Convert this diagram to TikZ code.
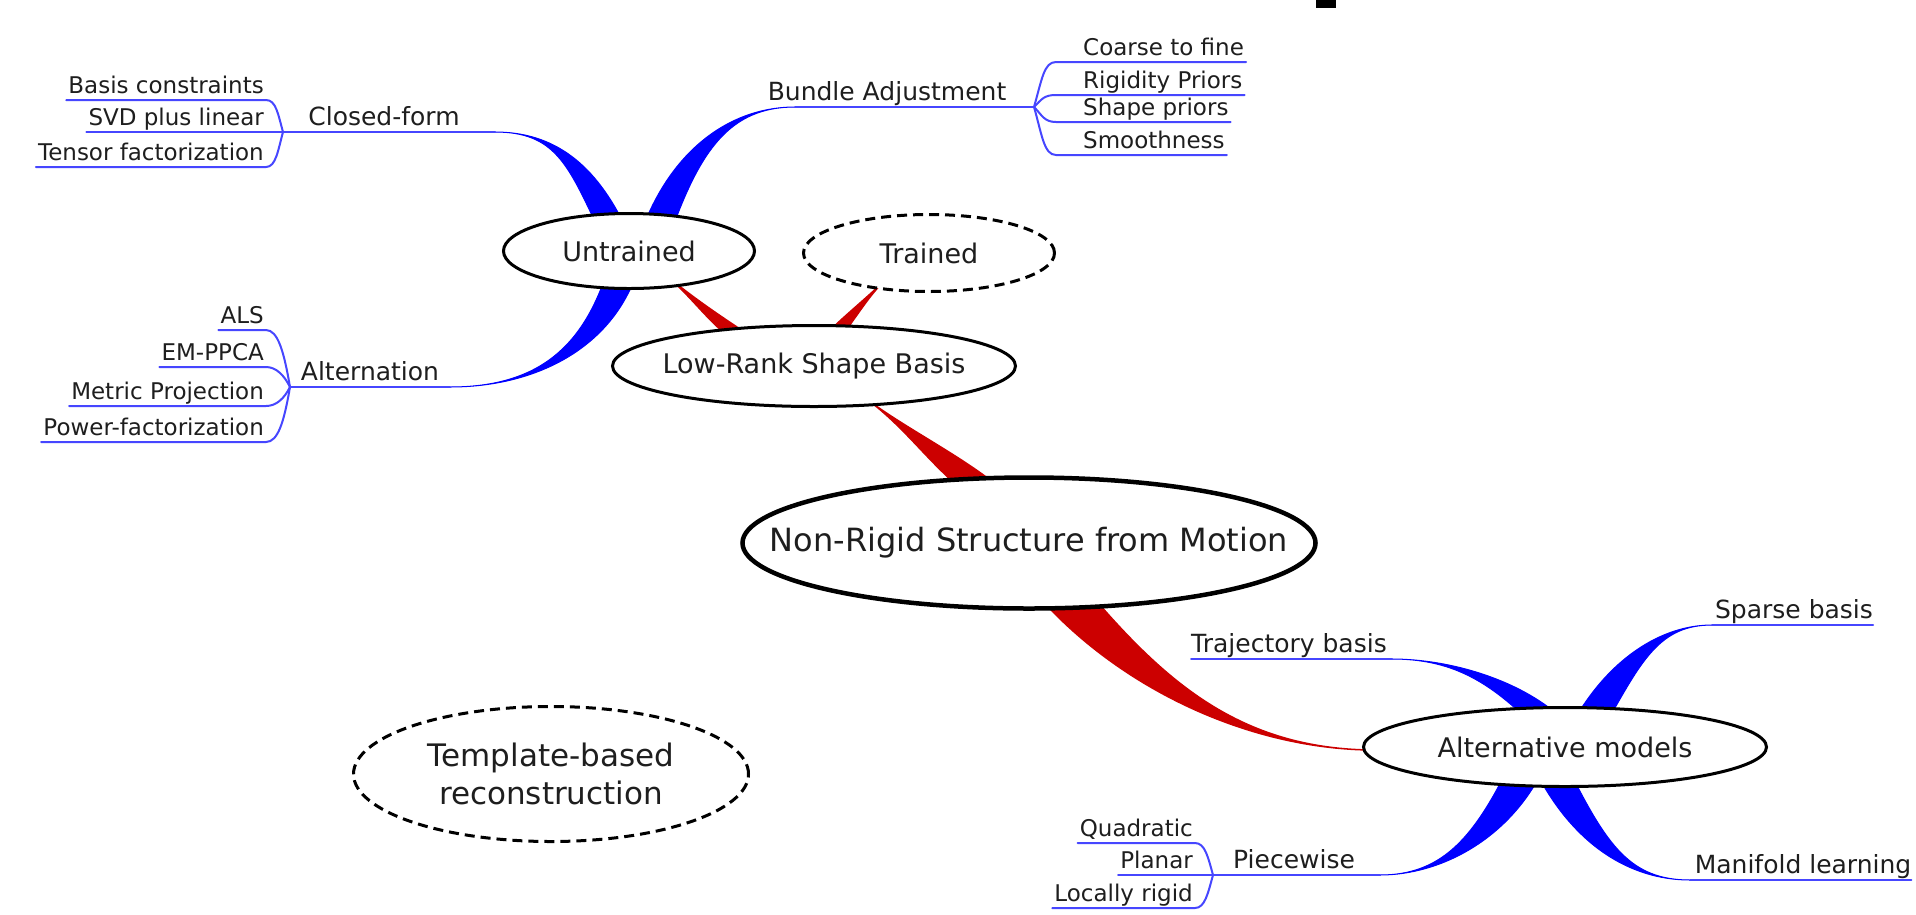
\documentclass[tikz,border=0pt]{standalone}
\usepackage{fontspec}
\setmainfont{DejaVu Sans}
\usetikzlibrary{shapes.geometric,calc}
\pgfdeclarelayer{background}
\pgfsetlayers{background,main}
\definecolor{ribblue}{RGB}{0,0,255}
\definecolor{ribred}{RGB}{204,0,0}
\definecolor{twigblue}{RGB}{70,70,255}
\definecolor{txt}{RGB}{30,30,30}
% tapered ribbon: style, thin end, control near thin end, control near thick end, thick end, half width
\newcommand\Rib[6]{\path[#1] (#2) .. controls (#3) and ($(#4)+(-#6,0)$) .. ($(#5)+(-#6,0)$) -- ($(#5)+(#6,0)$) .. controls ($(#4)+(#6,0)$) and (#3) .. (#2) -- cycle;}
\begin{document}
\begin{tikzpicture}[x=1pt,y=-1pt,
  twig/.style={draw=twigblue, line width=2pt, line cap=round},
  bribbon/.style={fill=ribblue, draw=ribblue, line width=1pt, line join=round},
  rribbon/.style={fill=ribred, draw=ribred, line width=1.5pt, line join=round},
  ell/.style={ellipse, draw=black, line width=3pt, fill=white, inner sep=0pt},
  dashell/.style={ell, dash pattern=on 10pt off 6pt},
  leaf/.style={font=\fontsize{23}{27}\selectfont, text=txt, inner xsep=2pt, inner ysep=6pt, text depth=0pt},
  branch/.style={font=\fontsize{25}{29}\selectfont, text=txt, inner xsep=0pt, inner ysep=6pt, text depth=0pt},
  elabel/.style={font=\fontsize{27}{32}\selectfont, text=txt, inner sep=0pt},
]
\useasboundingbox (0,0) rectangle (1916,914);
\begin{pgfonlayer}{background}
\fill[white] (0,0) rectangle (1916,914);
\end{pgfonlayer}
\fill[black] (1316,0) rectangle (1336,8);

% ---- ellipses ----
\node[ell, minimum width=251pt, minimum height=75pt] (untrained) at (629,251) {};
\node[dashell, minimum width=251pt, minimum height=77pt] (trained) at (929,253) {};
\node[ell, minimum width=403pt, minimum height=81pt] (lowrank) at (814,366) {};
\node[ell, line width=4.5pt, minimum width=573pt, minimum height=131pt] (nrsfm) at (1029,543) {};
\node[ell, minimum width=403pt, minimum height=79pt] (alt) at (1565,747) {};
\node[dashell, minimum width=395pt, minimum height=135pt] (template) at (551,774) {};

\node[elabel] (untrainedt) at (untrained) {Untrained};
\node[elabel] (trainedt) at (trained) {Trained};
\node[elabel] (lowrankt) at (lowrank) {Low-Rank Shape Basis};
\node[elabel, font=\fontsize{32}{38}\selectfont] (nrsfmt) at (nrsfm) {Non-Rigid Structure from Motion};
\node[elabel] (altt) at (alt) {Alternative models};
\node[elabel, font=\fontsize{31}{38}\selectfont, align=center] (templatet) at (template) {Template-based\\reconstruction};

% ---- branch labels ----
\node[branch, anchor=south] (cf) at (384,132) {Closed-form};
\node[branch, anchor=south] (alln) at (370,387) {Alternation};
\node[branch, anchor=south] (ba) at (887,107) {Bundle Adjustment};
\node[branch, anchor=south] (tb) at (1289,659) {Trajectory basis};
\node[branch, anchor=south] (sb) at (1794,625) {Sparse basis};
\node[branch, anchor=south] (ml) at (1803,880) {Manifold learning};
\node[branch, anchor=south] (pw) at (1294,875) {Piecewise};

% ---- leaves ----
\node[leaf, anchor=south east] (bc) at (266,100) {Basis constraints};
\node[leaf, anchor=south east] (svd) at (266,132) {SVD plus linear};
\node[leaf, anchor=south east] (tf) at (266,167) {Tensor factorization};
\node[leaf, anchor=south east] (als) at (266,330) {ALS};
\node[leaf, anchor=south east] (em) at (266,367) {EM-PPCA};
\node[leaf, anchor=south east] (mp) at (266,406) {Metric Projection};
\node[leaf, anchor=south east] (pf) at (266,442) {Power-factorization};
\node[leaf, anchor=south west] (ctf) at (1081,62) {Coarse to fine};
\node[leaf, anchor=south west] (rp) at (1081,95) {Rigidity Priors};
\node[leaf, anchor=south west] (sp) at (1081,122) {Shape priors};
\node[leaf, anchor=south west] (sm) at (1081,155) {Smoothness};
\node[leaf, anchor=south east] (qu) at (1195,843) {Quadratic};
\node[leaf, anchor=south east] (pl) at (1195,875) {Planar};
\node[leaf, anchor=south east] (lr) at (1195,908) {Locally rigid};

% ---- connection points ----
\coordinate (cfF) at (283,132);
\coordinate (alF) at (290,387);
\coordinate (baF) at (1034,107);
\coordinate (pwF) at (1213,875);
\coordinate (cfT) at (495,132);
\coordinate (baT) at (795,107);
\coordinate (alT) at (450,387);
\coordinate (trT) at (1392,659);
\coordinate (spT) at (1712,625);
\coordinate (pwT) at (1380,875);
\coordinate (mlT) at (1690,880);
\coordinate (cfE) at ($(untrained.center)+(-17,-23)$);
\coordinate (baE) at ($(untrained.center)+(26,-16)$);
\coordinate (alE) at ($(untrained.center)+(-7,21)$);
\coordinate (ulT) at ($(untrained.center)+(37,24)$);
\coordinate (ulE) at ($(lowrank.center)+(-62,-21)$);
\coordinate (tlT) at ($(trained.center)+(-44,27)$);
\coordinate (tlE) at ($(lowrank.center)+(11,-21)$);
\coordinate (lnT) at ($(lowrank.center)+(54,34)$);
\coordinate (lnE) at ($(nrsfm.center)+(-49,-55)$);
\coordinate (naE) at ($(nrsfm.center)+(31,47)$);
\coordinate (naT) at ($(alt.center)+(-195,3)$);
\coordinate (trE) at ($(alt.center)+(-17,-25)$);
\coordinate (spE) at ($(alt.center)+(25,-25)$);
\coordinate (pwE) at ($(alt.center)+(-40,23)$);
\coordinate (mlE) at ($(alt.center)+(-13,23)$);

\begin{pgfonlayer}{background}
% red ribbons
\Rib{rribbon}{ulT}{695,300}{722,325}{ulE}{12}
\Rib{rribbon}{tlT}{865,300}{845,322}{tlE}{9}
\Rib{rribbon}{lnT}{905,428}{945,458}{lnE}{20}
\Rib{rribbon}{naT}{1240,748}{1138,682}{naE}{27}
% blue ribbons
\Rib{bribbon}{cfT}{555,132}{582,165}{cfE}{14}
\Rib{bribbon}{baT}{730,107}{685,150}{baE}{15}
\Rib{bribbon}{alT}{540,387}{598,345}{alE}{15}
\Rib{bribbon}{trT}{1450,659}{1505,680}{trE}{18}
\Rib{bribbon}{spT}{1660,625}{1625,660}{spE}{17}
\Rib{bribbon}{pwT}{1440,875}{1490,840}{pwE}{18}
\Rib{bribbon}{mlT}{1630,880}{1590,845}{mlE}{17}

% branch underlines
\draw[twig] (cfF) -- (cfT);
\draw[twig] (alF) -- (alT);
\draw[twig] (baT) -- (baF);
\draw[twig] (tb.south west) -- (trT);
\draw[twig] (spT) -- (sb.south east);
\draw[twig] (mlT) -- (ml.south east);
\draw[twig] (pwF) -- (pwT);

% closed-form leaves
\draw[twig] (cfF) .. controls +(-5,-18) and +(10,0) .. (bc.south east) -- (bc.south west);
\draw[twig] (cfF) -- (svd.south west);
\draw[twig] (cfF) .. controls +(-5,18) and +(10,0) .. (tf.south east) -- (tf.south west);
% alternation leaves
\draw[twig] (alF) .. controls +(-6,-35) and +(12,0) .. (als.south east) -- (als.south west);
\draw[twig] (alF) .. controls +(-6,-12) and +(10,0) .. (em.south east) -- (em.south west);
\draw[twig] (alF) .. controls +(-6,12) and +(10,0) .. (mp.south east) -- (mp.south west);
\draw[twig] (alF) .. controls +(-6,35) and +(12,0) .. (pf.south east) -- (pf.south west);
% bundle leaves
\draw[twig] (baF) .. controls +(8,-28) and +(-12,0) .. ($(ctf.south west)+(-25,0)$) -- (ctf.south east);
\draw[twig] (baF) .. controls +(8,-8) and +(-12,0) .. ($(rp.south west)+(-25,0)$) -- (rp.south east);
\draw[twig] (baF) .. controls +(8,8) and +(-12,0) .. ($(sp.south west)+(-25,0)$) -- (sp.south east);
\draw[twig] (baF) .. controls +(8,28) and +(-12,0) .. ($(sm.south west)+(-25,0)$) -- (sm.south east);
% piecewise leaves
\draw[twig] (pwF) .. controls +(-5,-18) and +(10,0) .. (qu.south east) -- (qu.south west);
\draw[twig] (pwF) -- (pl.south west);
\draw[twig] (pwF) .. controls +(-5,18) and +(10,0) .. (lr.south east) -- (lr.south west);
\end{pgfonlayer}
\end{tikzpicture}
\end{document}
